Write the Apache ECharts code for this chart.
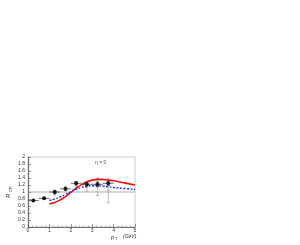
<!DOCTYPE html>
<html><head><meta charset="utf-8">
<script src="https://cdn.jsdelivr.net/npm/echarts@6/dist/echarts.min.js"></script>
<style>html,body{margin:0;padding:0;background:#fff}#c{width:300px;height:245px}</style>
</head><body><div id="c"></div>
<script>
// Data
var ptBins = [0.25, 0.75, 1.25, 1.75, 2.25, 2.75, 3.25, 3.75];
var ptHalfWidth = [0.25, 0.25, 0.25, 0.25, 0.25, 0.25, 0.25, 0.25];
var rcpValues = [0.76, 0.82, 1.0, 1.09, 1.25, 1.22, 1.22, 1.25];
var rcpErrors = [0.03, 0.03, 0.05, 0.05, 0.05, 0.05, 0.06, 0.06];
var altPt = [1.25, 2.25, 2.75, 3.25, 3.75];
var altValues = [0.97, 1.17, 1.14, 1.15, 1.04];
var altErrors = [0.06, 0.1, 0.12, 0.25, 0.35];
var redPt = [1.0, 1.25, 1.5, 1.75, 2.0, 2.25, 2.5, 2.75, 3.0, 3.25, 3.5, 3.75, 4.0, 4.5, 5.0];
var redValues = [0.66, 0.7, 0.77, 0.87, 0.99, 1.11, 1.21, 1.29, 1.34, 1.36, 1.36, 1.34, 1.32, 1.26, 1.2];
var bluePt = [1.0, 1.25, 1.5, 1.75, 2.0, 2.25, 2.5, 2.75, 3.0, 3.25, 3.5, 3.75, 4.0, 4.5, 5.0];
var blueValues = [0.76, 0.8, 0.86, 0.93, 1.01, 1.08, 1.13, 1.16, 1.18, 1.18, 1.17, 1.15, 1.13, 1.1, 1.07];
var xTicks = [0, 1, 2, 3, 4, 5];
var yTicks = [0, 0.2, 0.4, 0.6, 0.8, 1, 1.2, 1.4, 1.6, 1.8, 2];

function zip(a, b) { return a.map(function (v, i) { return [v, b[i]]; }); }
var mainData = ptBins.map(function (x, i) { return [x, rcpValues[i], ptHalfWidth[i], rcpErrors[i]]; });
var altData = altPt.map(function (x, i) { return [x, altValues[i], 0, altErrors[i]]; });

function errRender(color) {
  return function (params, api) {
    var x = api.value(0), y = api.value(1), dx = api.value(2), dy = api.value(3);
    var l = api.coord([x - dx, y]), r = api.coord([x + dx, y]);
    var t = api.coord([x, y + dy]), b = api.coord([x, y - dy]);
    var st = { stroke: color, lineWidth: 0.8 };
    var ch = [];
    if (dx > 0) ch.push({ type: 'line', shape: { x1: l[0], y1: l[1], x2: r[0], y2: r[1] }, style: st });
    ch.push({ type: 'line', shape: { x1: t[0], y1: t[1], x2: b[0], y2: b[1] }, style: st });
    ch.push({ type: 'line', shape: { x1: t[0] - 1.5, y1: t[1], x2: t[0] + 1.5, y2: t[1] }, style: st });
    ch.push({ type: 'line', shape: { x1: b[0] - 1.5, y1: b[1], x2: b[0] + 1.5, y2: b[1] }, style: st });
    return { type: 'group', children: ch };
  };
}

var chart = echarts.init(document.getElementById('c'));
var font = 'Liberation Sans';
chart.setOption({
  animation: false,
  grid: { left: 28, right: 165, top: 157, bottom: 18, show: true, borderColor: '#bbb', borderWidth: 0.8 },
  xAxis: {
    type: 'value', min: 0, max: 5, interval: 1,
    axisLine: { show: true, onZero: false, lineStyle: { color: '#555', width: 0.8 } },
    axisTick: { show: true, inside: true, length: 3, lineStyle: { color: '#555', width: 0.6 } },
    minorTick: { show: true, splitNumber: 5, length: 1.5, lineStyle: { color: '#777', width: 0.5 } },
    axisLabel: { fontSize: 5, color: '#333', fontFamily: font, margin: 1 },
    splitLine: { show: false }
  },
  yAxis: {
    type: 'value', min: 0, max: 2, interval: 0.2,
    axisLine: { show: true, lineStyle: { color: '#555', width: 0.8 } },
    axisTick: { show: true, inside: true, length: 3, lineStyle: { color: '#555', width: 0.6 } },
    minorTick: { show: true, splitNumber: 4, length: 1.5, lineStyle: { color: '#777', width: 0.5 } },
    axisLabel: { fontSize: 5, color: '#333', fontFamily: font, margin: 3,
      formatter: function (v) { return String(Math.round(v * 10) / 10); } },
    splitLine: { show: false }
  },
  graphic: [
    { type: 'text', left: 95, top: 160, style: { text: 'η = 0', fontSize: 5, fill: '#555', fontFamily: font } },
    { type: 'text', left: 111, top: 234, style: { text: 'p', fontSize: 6, fill: '#333', fontFamily: font, fontStyle: 'italic' } },
    { type: 'text', left: 115, top: 237, style: { text: 'T', fontSize: 4, fill: '#333', fontFamily: font } },
    { type: 'text', left: 123, top: 234, style: { text: '(GeV)', fontSize: 5, fill: '#333', fontFamily: font, fontStyle: 'italic' } },
    { type: 'text', x: 5, y: 198, rotation: Math.PI / 2, style: { text: 'R', fontSize: 6, fill: '#333', fontFamily: font, fontStyle: 'italic' } },
    { type: 'text', x: 9, y: 192, rotation: Math.PI / 2, style: { text: 'CP', fontSize: 4, fill: '#333', fontFamily: font } }
  ],
  series: [
    { type: 'line', data: [[0, 1], [5, 1]], symbol: 'none', lineStyle: { color: '#888', width: 0.7 }, z: 1 },
    { type: 'custom', data: altData, renderItem: errRender('#aaa'), z: 2 },
    { type: 'scatter', data: zip(altPt, altValues), symbol: 'circle', symbolSize: 3, itemStyle: { color: '#bbb' }, z: 3 },
    { type: 'line', data: zip(redPt, redValues), symbol: 'none', smooth: true, lineStyle: { color: '#ee1111', width: 1.6 }, z: 4 },
    { type: 'line', data: zip(bluePt, blueValues), symbol: 'none', smooth: true, lineStyle: { color: '#2233ee', width: 1.4, type: [2, 1.5] }, z: 5 },
    { type: 'custom', data: mainData, renderItem: errRender('#444'), z: 6 },
    { type: 'scatter', data: zip(ptBins, rcpValues), symbol: 'circle', symbolSize: 4, itemStyle: { color: '#000' }, z: 7 }
  ]
});
</script></body></html>
